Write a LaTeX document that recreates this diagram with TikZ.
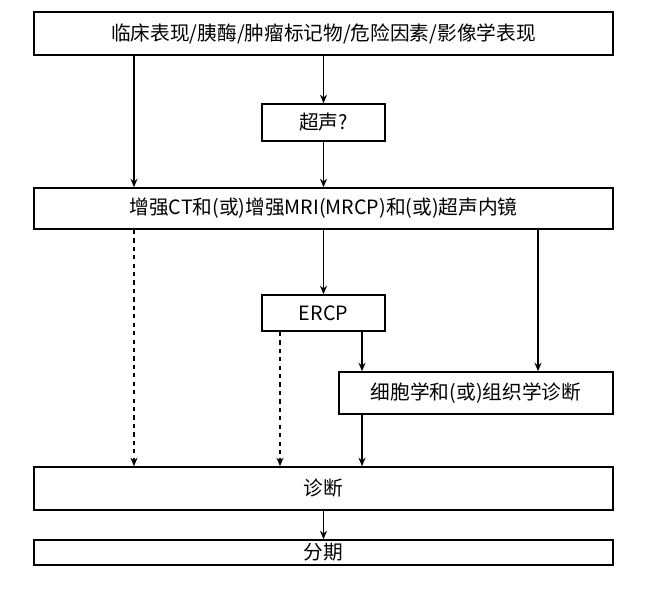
\documentclass[tikz,border=0pt]{standalone}
\usepackage{fontspec}
\setmainfont{Noto Sans CJK SC}
\usetikzlibrary{arrows.meta, positioning, calc}

\begin{document}
\begin{tikzpicture}[x=0.025cm, y=-0.025cm,
    box/.style={draw, line width=1.2pt, inner sep=0pt, font=\fontsize{14}{16}\selectfont},
    arr/.style={-{Stealth[length=6pt, width=5pt]}, line width=0.9pt},
    darr/.style={arr, dashed}]
    \useasboundingbox (0,0) rectangle (649,597);
    % Boxes
    \node[box, minimum width=579*0.025cm, minimum height=43*0.025cm] (top) at (323.5,33.5) {临床表现/胰酶/肿瘤标记物/危险因素/影像学表现};
    \node[box, minimum width=123*0.025cm, minimum height=37*0.025cm] (us) at (323.5,122.5) {超声?};
    \node[box, minimum width=579*0.025cm, minimum height=41*0.025cm] (enh) at (323.5,208.5) {增强CT和(或)增强MRI(MRCP)和(或)超声内镜};
    \node[box, minimum width=123*0.025cm, minimum height=36*0.025cm] (ercp) at (323.5,313) {ERCP};
    \node[box, minimum width=274*0.025cm, minimum height=42*0.025cm] (cyto) at (476,393) {细胞学和(或)组织学诊断};
    \node[box, minimum width=579*0.025cm, minimum height=43*0.025cm] (diag) at (323.5,488.5) {诊断};
    \node[box, minimum width=579*0.025cm, minimum height=25*0.025cm] (stage) at (323.5,552.5) {分期};
    % Columns
    \coordinate (cl) at (134,0);
    \coordinate (cm) at (323.5,0);
    \coordinate (ce) at (280,0);
    \coordinate (cc) at (362,0);
    \coordinate (cr) at (538,0);
    % Arrows
    \draw[arr] (top.south -| cl) -- (enh.north -| cl);
    \draw[arr] (top) -- (us);
    \draw[arr] (us) -- (enh);
    \draw[arr] (enh.south -| cm) -- (ercp);
    \draw[darr] (enh.south -| cl) -- (diag.north -| cl);
    \draw[arr] (enh.south -| cr) -- (cyto.north -| cr);
    \draw[darr] (ercp.south -| ce) -- (diag.north -| ce);
    \draw[arr] (ercp.south -| cc) -- (cyto.north -| cc);
    \draw[arr] (cyto.south -| cc) -- (diag.north -| cc);
    \draw[arr] (diag) -- (stage);
\end{tikzpicture}
\end{document}
